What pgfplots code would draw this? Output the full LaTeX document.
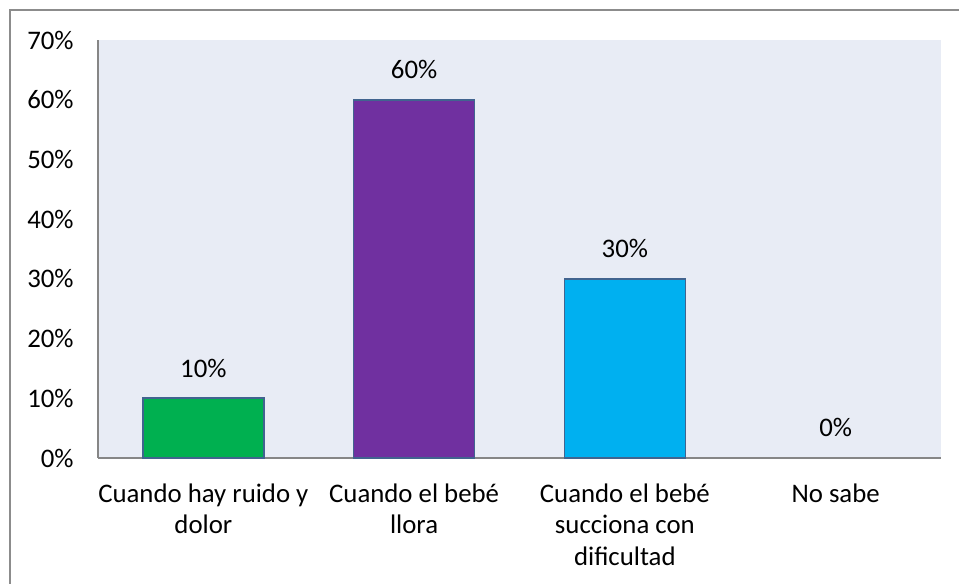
\documentclass[border=0pt]{standalone}
\usepackage{fontspec}
\setmainfont{Carlito}
\usepackage{pgfplots}
\pgfplotsset{compat=1.18}

\definecolor{plotbg}{HTML}{E8ECF5}
\definecolor{axisgray}{HTML}{868686}
\definecolor{frameGray}{HTML}{8C8C8C}
\definecolor{barEdge}{HTML}{41648F}
\definecolor{cGreen}{HTML}{00B050}
\definecolor{cPurple}{HTML}{7030A0}
\definecolor{cCyan}{HTML}{00B0F0}

\begin{document}
\fontsize{13.4bp}{15.8bp}\selectfont
\begin{tikzpicture}
\path[use as bounding box] (0,0) rectangle (479.5bp,292bp);
\draw[frameGray, line width=1bp] (4.75bp,0) -- (4.75bp,286.75bp) -- (479.5bp,286.75bp);
\begin{axis}[
  at={(49bp,63bp)}, anchor=south west,
  scale only axis,
  width=421.5bp, height=209bp,
  xmin=-0.5, xmax=3.5,
  ymin=0, ymax=70,
  axis x line*=bottom, axis y line*=left,
  axis line style={axisgray, line width=1bp},
  axis background/.style={fill=plotbg},
  ytick={0,10,...,70},
  yticklabel={\pgfmathprintnumber{\tick}\%},
  /pgf/number format/assume math mode=true,
  yticklabel style={anchor=east, inner sep=0pt, xshift=-12bp},
  major tick length=0pt,
  xtick={0,1,2,3},
  xticklabels={{Cuando hay ruido y\\dolor},{Cuando el bebé\\llora},{Cuando el bebé\\succiona con\\dificultad},{No sabe}},
  xticklabel style={align=center, anchor=north, inner sep=0pt, yshift=-12.5bp, font=\fontsize{13.4bp}{15.8bp}\selectfont},
  ybar, bar width=60.5bp, bar shift=0pt,
  nodes near coords={\pgfmathprintnumber{\pgfplotspointmeta}\%},
  nodes near coords style={anchor=south, inner sep=0pt, yshift=10bp, text=black},
  every axis plot/.append style={draw=barEdge, line width=0.8bp},
  clip=false,
]
\addplot[fill=cGreen] coordinates {(0,10)};
\addplot[fill=cPurple] coordinates {(1,60)};
\addplot[fill=cCyan] coordinates {(2,30)};
\addplot[fill=none, draw=none] coordinates {(3,0)};
\end{axis}
\end{tikzpicture}
\end{document}
